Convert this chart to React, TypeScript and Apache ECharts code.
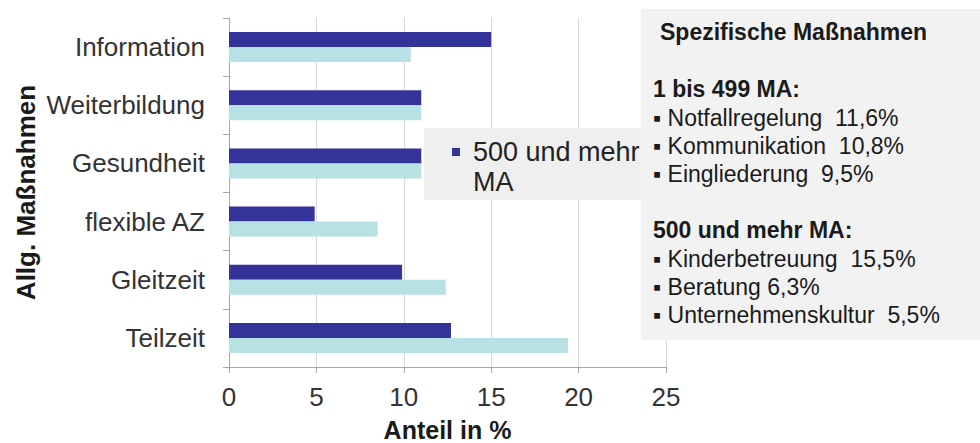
import React, { useEffect, useRef } from "react";
import * as echarts from "echarts";

const categories = ["Teilzeit", "Gleitzeit", "flexible AZ", "Gesundheit", "Weiterbildung", "Information"];
const seriesLarge = [12.7, 9.9, 4.9, 11.0, 11.0, 15.0];
const seriesSmall = [19.4, 12.4, 8.5, 11.0, 11.0, 10.4];
const seriesNames = ["500 und mehr MA", "1 bis 499 MA"];
const xMin = 0;
const xMax = 25;
const xInterval = 5;

const panelTitle = "Spezifische Maßnahmen";
const groupSmallHeading = "1 bis 499 MA:";
const groupSmallItems = ["▪ Notfallregelung  11,6%", "▪ Kommunikation  10,8%", "▪ Eingliederung  9,5%"];
const groupLargeHeading = "500 und mehr MA:";
const groupLargeItems = ["▪ Kinderbetreuung  15,5%", "▪ Beratung 6,3%", "▪ Unternehmenskultur  5,5%"];

const FONT = "'Liberation Sans', Arial, Helvetica, sans-serif";
const DARK = "#333399";
const LIGHT = "#b7e1e4";

export default function App() {
  const ref = useRef<HTMLDivElement>(null);
  useEffect(() => {
    if (!ref.current) return;
    const chart = echarts.init(ref.current, null, { renderer: "svg" });

    const panelTexts: any[] = [];
    const addText = (text: string, x: number, y: number, bold: boolean, size: number) => {
      panelTexts.push({
        type: "text",
        x,
        y,
        z: 11,
        style: {
          text,
          fontFamily: FONT,
          fontSize: size,
          fontWeight: bold ? "bold" : "normal",
          fill: "#1a1a1a",
          verticalAlign: "middle",
          align: "left",
        },
      });
    };
    addText(panelTitle, 660, 32, true, 23);
    addText(groupSmallHeading, 653, 89, true, 23);
    groupSmallItems.forEach((t, i) => addText(t, 653, 118 + i * 28, false, 23));
    addText(groupLargeHeading, 653, 229.5, true, 23);
    groupLargeItems.forEach((t, i) => addText(t, 653, 258.5 + i * 28.3, false, 23));

    chart.setOption({
      animation: false,
      textStyle: { fontFamily: FONT },
      grid: {
        left: 229,
        right: 314,
        top: 18,
        bottom: 76,
        containLabel: false,
        outerBoundsMode: "none",
      },
      legend: {
        data: [seriesNames[0]],
        left: 424,
        top: 128,
        orient: "vertical",
        backgroundColor: "#efefef",
        padding: [9, 12, 3, 28],
        icon: "path://M0,0H8V8H0Z M0,38H16",
        itemWidth: 16,
        itemHeight: 38,
        formatter: () => "500 und mehr\nMA",
        textStyle: { fontSize: 27, lineHeight: 30, color: "#222", fontFamily: FONT },
      },
      xAxis: {
        type: "value",
        min: xMin,
        max: xMax,
        interval: xInterval,
        name: "Anteil in %",
        nameLocation: "middle",
        nameGap: 50,
        nameTextStyle: { fontSize: 25, fontWeight: "bold", color: "#1a1a1a", fontFamily: FONT },
        axisLine: { show: true, lineStyle: { color: "#a6a6a6", width: 1 } },
        axisTick: { show: true, length: 6, lineStyle: { color: "#a6a6a6" } },
        axisLabel: { fontSize: 26, color: "#333", margin: 17, fontFamily: FONT },
        splitLine: { show: true, lineStyle: { color: "#d9d9d9", width: 1 } },
      },
      yAxis: {
        type: "category",
        data: categories,
        name: "Allg. Maßnahmen",
        nameLocation: "middle",
        nameGap: 190,
        nameTextStyle: { fontSize: 26, fontWeight: "bold", color: "#1a1a1a", fontFamily: FONT },
        axisLine: { show: true, lineStyle: { color: "#a6a6a6", width: 1 } },
        axisTick: { show: true, length: 6, inside: false, lineStyle: { color: "#a6a6a6" } },
        axisLabel: { fontSize: 26, color: "#333", margin: 24, fontFamily: FONT },
        splitLine: { show: false },
      },
      series: [
        {
          name: seriesNames[0],
          type: "bar",
          data: seriesLarge,
          barWidth: 15,
          barGap: "0%",
          itemStyle: { color: DARK },
        },
        {
          name: seriesNames[1],
          type: "bar",
          data: seriesSmall,
          barWidth: 15,
          barGap: "0%",
          itemStyle: { color: LIGHT },
        },
      ],
      graphic: [
        {
          type: "rect",
          z: 10,
          shape: { x: 641, y: 9, width: 339, height: 331 },
          style: { fill: "#f2f2f2" },
        },
        ...panelTexts,
      ],
    });
    return () => chart.dispose();
  }, []);
  return (
    <div
      ref={ref}
      style={{ position: "fixed", left: 0, top: 0, width: 980, height: 443, background: "#fff" }}
    />
  );
}
